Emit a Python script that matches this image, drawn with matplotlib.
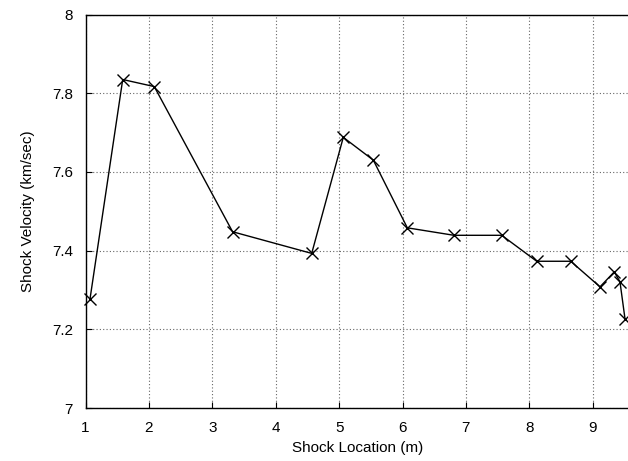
import matplotlib
matplotlib.use("Agg")
import matplotlib.pyplot as plt

plt.rcParams['font.family'] = ['Liberation Sans', 'DejaVu Sans']

# Shock position along the tube and the measured shock speed there
location_m = [1.07, 1.587, 2.085, 3.32, 4.568, 5.066, 5.54, 6.076,
              6.812, 7.565, 8.117, 8.653, 9.115, 9.34, 9.43, 9.51]
velocity_kms = [7.276, 7.835, 7.817, 7.448, 7.393, 7.688, 7.630, 7.458,
                7.439, 7.439, 7.373, 7.373, 7.308, 7.346, 7.321, 7.226]

x_ticks = [1, 2, 3, 4, 5, 6, 7, 8, 9]
y_ticks = [7, 7.2, 7.4, 7.6, 7.8, 8]
y_tick_labels = ['7', '7.2', '7.4', '7.6', '7.8', '8']

W, H = 628, 461
fig = plt.figure(figsize=(W / 100, H / 100), dpi=100)
left_px, right_px, top_px, bottom_px = 85.5, 629.0, 14.6, 408.0
ax = fig.add_axes([left_px / W, 1 - bottom_px / H,
                   (right_px - left_px) / W, (bottom_px - top_px) / H])

ax.plot(location_m, velocity_kms, color='black', linewidth=1.0,
        marker='x', markersize=9, markeredgewidth=1.0, clip_on=False)

ax.set_xlim(1, 1 + (right_px - left_px) / 63.4)
ax.set_ylim(7, 8)
ax.set_xticks(x_ticks)
ax.set_yticks(y_ticks)
ax.set_yticklabels(y_tick_labels)

ax.grid(True, linestyle=(0, (1, 2)), color='#666666', linewidth=0.8)
ax.tick_params(direction='in', length=4, width=0.8, labelsize=11,
               top=False, right=False)
ax.tick_params(axis='x', pad=9)
ax.tick_params(axis='y', pad=9)
for side in ('left', 'bottom', 'top'):
    ax.spines[side].set_linewidth(1.0)
ax.spines['right'].set_visible(False)

ax.set_xlabel('Shock Location (m)', fontsize=11, labelpad=5)
ax.set_ylabel('Shock Velocity (km/sec)', fontsize=11, labelpad=12)

fig.savefig('out.png', dpi=100)
